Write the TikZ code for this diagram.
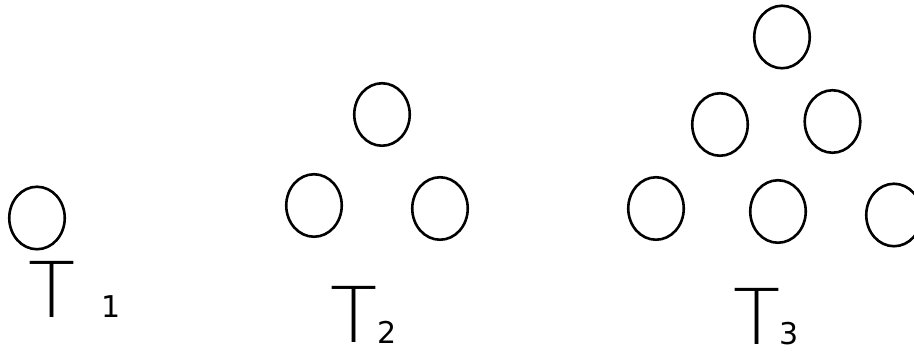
\documentclass[tikz,border=0pt]{standalone}
\usepackage{fontspec}
\IfFontExistsTF{DejaVu Sans ExtraLight}
  {\newfontfamily\labelfont{DejaVu Sans ExtraLight}}
  {\newfontfamily\labelfont{Liberation Sans}}
\newfontfamily\digitfont{DejaVu Sans}
\usetikzlibrary{shapes.geometric}
\tikzset{
  ring/.style={draw=black, line width=2.6pt, ellipse, inner sep=0pt,
    minimum width=55.5pt, minimum height=62.5pt},
  bigT/.style={inner sep=0pt, anchor=base, font=\labelfont\fontsize{77}{77}\selectfont},
  subd/.style={inner sep=0pt, anchor=base, font=\digitfont\fontsize{30}{30}\selectfont}
}
\begin{document}
\begin{tikzpicture}[x=1pt,y=-1pt]
\useasboundingbox (0,0) rectangle (914,352);
% T1
\node[ring] (a1) at (37,218) {};
\node[bigT] (t1) at (52,318) {T};
\node[subd] (s1) at (111,318) {1};
% T2
\node[ring] (b1) at (382,114.5) {};
\node[ring] (b2) at (314,205.5) {};
\node[ring] (b3) at (440,208.5) {};
\node[bigT] (t2) at (354,343) {T};
\node[subd] (s2) at (387.5,344) {2};
% T3
\node[ring] (c1) at (782,37) {};
\node[ring] (c2) at (720,124.5) {};
\node[ring] (c3) at (832.5,121.5) {};
\node[ring] (c4) at (656,208.5) {};
\node[ring] (c5) at (778,211.5) {};
\node[ring] (c6) at (894,215) {};
\node[bigT] (t3) at (757,345) {T};
\node[subd] (s3) at (789,345) {3};
\end{tikzpicture}
\end{document}
